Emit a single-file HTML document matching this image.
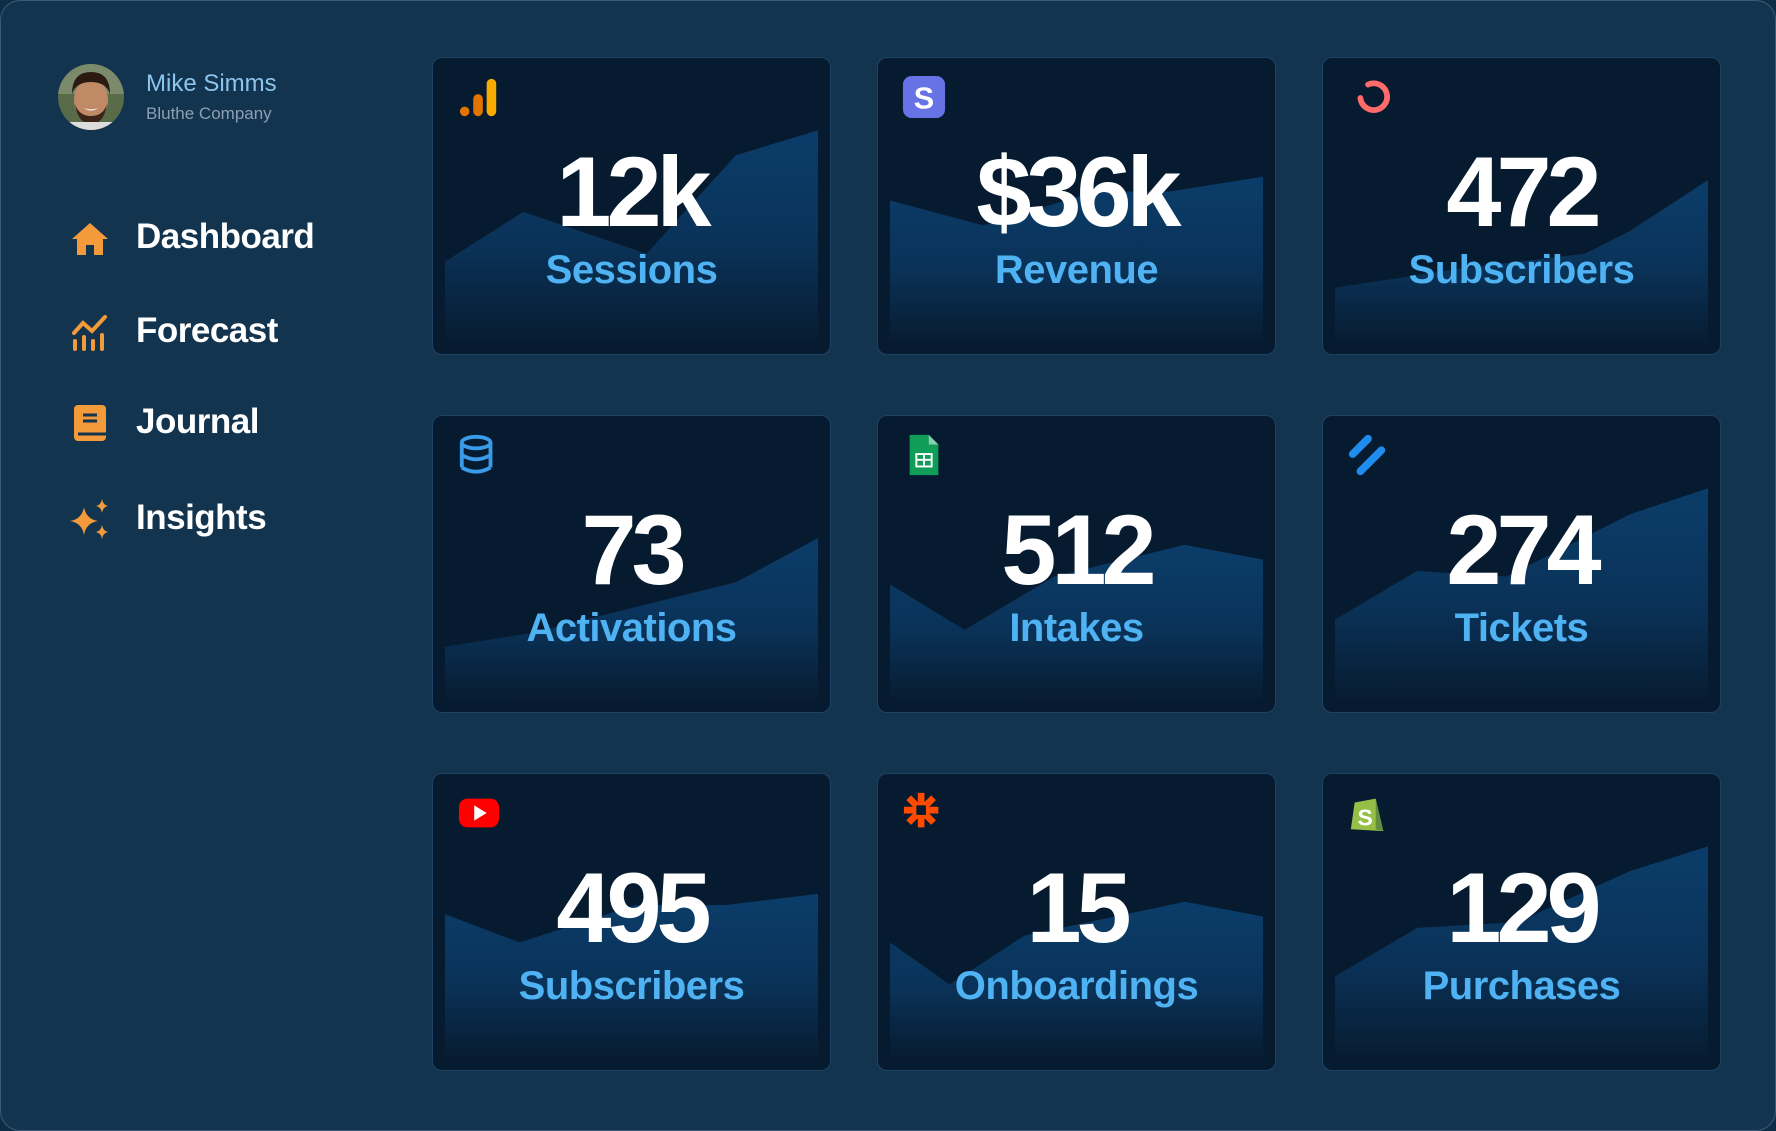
<!DOCTYPE html>
<html><head><meta charset="utf-8">
<style>
html,body{margin:0;padding:0;background:#0e2c45;}
#root{position:relative;width:1776px;height:1131px;background:#12344f;border-radius:20px;overflow:hidden;font-family:"Liberation Sans",sans-serif;box-shadow:inset 0 0 0 1px #3a5a75;}
.abs{position:absolute;}
.nav{position:absolute;left:136px;color:#fff;font-size:35px;font-weight:bold;letter-spacing:-0.5px;}
.navicon{position:absolute;left:70px;width:40px;height:40px;}
.card{position:absolute;width:397px;height:296px;background:#061b2f;border:1px solid #1d4263;border-radius:10px;overflow:hidden;}
.card svg.area{position:absolute;left:0;top:0;}
.num{position:absolute;left:0;width:100%;text-align:center;top:84px;color:#fff;font-weight:bold;font-size:99px;line-height:100px;letter-spacing:-5px;}
.lbl{position:absolute;left:0;width:100%;text-align:center;top:187px;color:#4fb2f2;font-weight:bold;font-size:40px;line-height:50px;letter-spacing:-0.5px;}
.icon{position:absolute;left:24px;top:17px;width:44px;height:44px;}
</style></head>
<body>
<div id="root">
  <svg class="abs" style="left:58px;top:64px" width="66" height="66">
    <defs><clipPath id="av"><circle cx="33" cy="33" r="33"/></clipPath></defs>
    <g clip-path="url(#av)">
      <rect width="66" height="66" fill="#5a6b4a"/>
      <rect x="0" y="0" width="66" height="30" fill="#7a8a6a"/>
      <ellipse cx="33" cy="36" rx="17" ry="21" fill="#c08a66"/>
      <path d="M14 30 Q14 8 33 8 Q52 8 52 30 Q48 18 33 18 Q18 18 14 30Z" fill="#2a1a12"/>
      <path d="M17 40 Q20 60 33 60 Q46 60 49 40 Q45 52 33 52 Q21 52 17 40Z" fill="#3a2418"/>
      <path d="M26 44 Q33 49 40 44 Q33 47 26 44Z" fill="#fff"/>
      <rect x="10" y="58" width="46" height="10" fill="#ddd"/>
    </g>
  </svg>
  <div class="abs" style="left:146px;top:70px;color:#8cc4ec;font-size:24px;">Mike Simms</div>
  <div class="abs" style="left:146px;top:104px;color:#8d9fb3;font-size:17px;">Bluthe Company</div>

  <svg class="navicon" style="top:219px" viewBox="0 0 40 40"><path d="M20 4 L38 20 H33 V36 H24 V26 H16 V36 H7 V20 H2Z" fill="#f39a3b"/></svg>
  <div class="nav" style="top:217px">Dashboard</div>

  <svg class="navicon" style="top:313px" viewBox="0 0 40 40"><g fill="none" stroke="#f39a3b" stroke-width="4" stroke-linecap="round"><path d="M4 20 L13 10 L22 18 L35 4"/><path d="M5 28V36M14 24V36M23 28V36M32 22V36"/></g></svg>
  <div class="nav" style="top:311px">Forecast</div>

  <svg class="navicon" style="top:403px" viewBox="0 0 40 40"><rect x="4" y="2" width="32" height="36" rx="4" fill="#f39a3b"/><path d="M13 12H27M13 18H27" stroke="#12344f" stroke-width="3"/><path d="M8 31H36" stroke="#12344f" stroke-width="3"/></svg>
  <div class="nav" style="top:402px">Journal</div>

  <svg class="navicon" style="top:499px" viewBox="0 0 40 40"><g fill="#f39a3b"><path d="M14 8 Q16 20 28 22 Q16 24 14 36 Q12 24 0 22 Q12 20 14 8Z"/><path d="M32 0 Q33 6 38 7 Q33 8 32 14 Q31 8 26 7 Q31 6 32 0Z"/><path d="M32 26 Q33 32 38 33 Q33 34 32 40 Q31 34 26 33 Q31 32 32 26Z"/></g></svg>
  <div class="nav" style="top:498px">Insights</div>

  <div id="cards"></div>
</div>
<script>
// chart data: time (0-100) and value (0-250) per card
const sessionsT = [0,21,54,78,100];      const sessionsV = [71,115,78,165,187];
const revenueT = [0,25,55,75,100];       const revenueV = [125,103,133,133,146];
const subsT = [0,34,67,79,100];          const subsV = [48,65,78,98,143];
const activationsT = [0,23,51,78,100];   const activationsV = [47,59,82,104,143];
const intakesT = [0,20,44,79,100];       const intakesV = [102,62,109,137,124];
const ticketsT = [0,22,46,79,100];       const ticketsV = [71,114,109,164,187];
const ytT = [0,20,51,75,100];            const ytV = [127,102,135,135,145];
const onboardT = [0,16,36,79,100];       const onboardV = [102,65,108,138,125];
const purchT = [0,22,49,79,100];         const purchV = [72,115,120,165,187];
const numbers = ["12k","$36k","472","73","512","274","495","15","129"];
const labels = ["Sessions","Revenue","Subscribers","Activations","Intakes","Tickets","Subscribers","Onboardings","Purchases"];

const series = [[sessionsT,sessionsV],[revenueT,revenueV],[subsT,subsV],[activationsT,activationsV],[intakesT,intakesV],[ticketsT,ticketsV],[ytT,ytV],[onboardT,onboardV],[purchT,purchV]];
const icons = [
 '<svg viewBox="0 0 46 46"><circle cx="8" cy="38" r="5" fill="#e37400"/><rect x="17" y="20" width="10" height="23" rx="5" fill="#e37400"/><rect x="31" y="4" width="10" height="39" rx="5" fill="#f9ab00"/></svg>',
 '<svg viewBox="0 0 46 46"><rect x="1" y="1" width="44" height="44" rx="9" fill="#6772e5"/><text x="23" y="35" text-anchor="middle" font-family="Liberation Sans" font-weight="bold" font-size="32" fill="#fff">S</text></svg>',
 '<svg viewBox="0 0 46 46"><path d="M14 24 A14 14 0 1 0 22 10" fill="none" stroke="#ff6b6b" stroke-width="6" stroke-linecap="round"/></svg>',
 '<svg viewBox="0 0 46 46"><g fill="none" stroke="#3a9be8" stroke-width="4"><ellipse cx="20" cy="10" rx="15" ry="6"/><path d="M5 10V36M35 10V36M5 23Q20 32 35 23M5 36Q20 45 35 36"/></g></svg>',
 '<svg viewBox="0 0 46 46"><path d="M8 2H28L38 12V44H8Z" fill="#0f9d58"/><path d="M28 2V12H38Z" fill="#87ceac"/><rect x="15" y="22" width="16" height="13" fill="none" stroke="#fff" stroke-width="2"/><path d="M15 28H31M23 22V35" stroke="#fff" stroke-width="2"/></svg>',
 '<svg viewBox="0 0 46 46"><g stroke="#1f8ded" stroke-width="8" stroke-linecap="round"><path d="M6 22L22 6"/><path d="M14 40L36 18"/></g></svg>',
 '<svg viewBox="0 0 46 46"><rect x="2" y="8" width="42" height="30" rx="9" fill="#ff0000"/><path d="M18 15L31 23L18 31Z" fill="#fff"/></svg>',
 '<svg viewBox="0 0 46 46"><g stroke="#ff4a00" stroke-width="7"><path d="M20 2V38M2 20H38M7 7L33 33M33 7L7 33"/></g><rect x="15" y="15" width="10" height="10" fill="#061b2f"/></svg>',
 '<svg viewBox="0 0 46 46"><path d="M8 12L30 8L38 42L4 40Z" fill="#95bf47"/><path d="M30 8L38 42L30 40Z" fill="#5e8e3e"/><text x="19" y="36" text-anchor="middle" font-family="Liberation Sans" font-weight="bold" font-size="24" fill="#fff">S</text></svg>'
];
const colX = [432,877,1322], rowY = [57,415,773];
const W = 397, H = 296, padX = 12, padB = 12;
function xScale(t){ return padX + t/100*(W-2*padX); }
function yScale(v){ return (H-padB) - v/250*283; }
const host = document.getElementById('cards');
const ns = 'http://www.w3.org/2000/svg';
series.forEach(function(s,i){
  const card = document.createElement('div');
  card.className = 'card';
  card.style.left = colX[i%3]+'px';
  card.style.top = rowY[Math.floor(i/3)]+'px';
  
  
  const svg = document.createElementNS(ns,'svg');
  svg.setAttribute('class','area'); svg.setAttribute('width',W); svg.setAttribute('height',H);
  
  
  svg.innerHTML = '<defs><linearGradient id="g'+i+'" x1="0" y1="0" x2="0" y2="1"><stop offset="0" stop-color="#0b3d6a"/><stop offset="0.55" stop-color="#0a3258"/><stop offset="1" stop-color="#071c31"/></linearGradient></defs>';
  let d = 'M'+xScale(s[0][0])+' '+(H-padB);
  s[0].forEach(function(t,k){ d += ' L'+xScale(t)+' '+yScale(s[1][k]); });
  d += ' L'+xScale(s[0][s[0].length-1])+' '+(H-padB)+' Z';
  const p = document.createElementNS(ns,'path');
  p.setAttribute('d', d); p.setAttribute('fill','url(#g'+i+')');
  
  
  svg.appendChild(p);
  card.appendChild(svg);
  const ic = document.createElement('div'); ic.className='icon'; ic.innerHTML = icons[i];
  
  
  card.appendChild(ic);
  const n = document.createElement('div'); n.className='num'; n.textContent = numbers[i];
  
  
  card.appendChild(n);
  const l = document.createElement('div'); l.className='lbl'; l.textContent = labels[i];
  
  
  card.appendChild(l);
  host.appendChild(card);
});
</script>
</body></html>
